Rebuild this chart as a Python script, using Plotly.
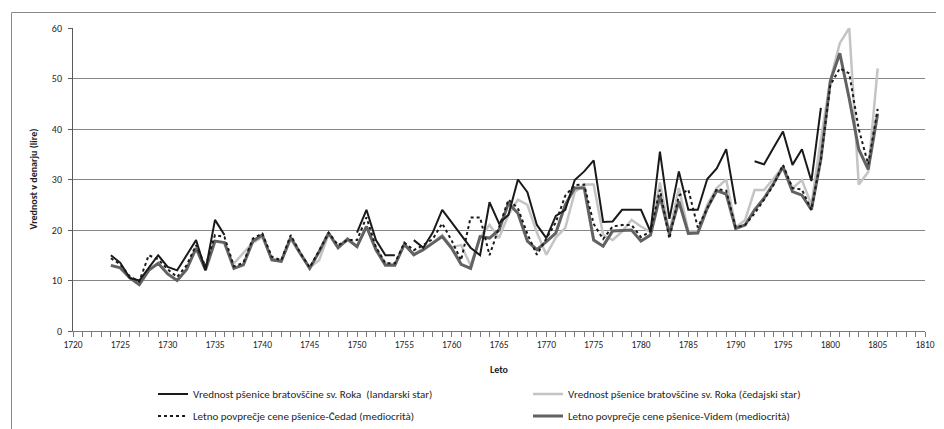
import plotly.graph_objects as go

years = list(range(1724, 1806))

# Vrednost pšenice bratovščine sv. Roka (landarski star)
landarski = [15, 13.5, 10.5, 10, 12.5, 15, 12.7, 12, 15, 18, 12, 22, 19,
             None, None, None, None, None, None, None, None, None, None, None, None, None,
             19.5, 24, 18, 15, 15, None, 18, 16.5, 19.5, 24, 21.5, 19, 16.5, 15,
             25.5, 21.3, 23, 30, 27.5, 21, 18.4, 22.8, 24, 29.9, 31.6, 33.8, 21.6,
             21.7, 24, 24, 24, 19.7, 35.5, 22.2, 31.6, 24, 24, 30.1, 32.2, 36, 25.1,
             None, 33.6, 33, 36.3, 39.5, 32.9, 36, 29.7, 44.2,
             None, None, None, None, None, None]

# Vrednost pšenice bratovščine sv. Roka (čedajski star)
cedajski = [None] * 13 + [
    13.4, 15.5, 17.5, 18.6, 14.3, 13.8, 18.3, 15.2, 12.6, 14, 19.2, 16.4, 18,
    16.8, 20.5, 16.5, 13.4, 13.2, 17, 15.3, 16.3, 17.5, 19, 16.6, 17, 13, 18.5,
    21, 18.4, 23, 26, 25, 19.5, 15.1, 18.5, 20.4, 27.5, 29, 29, 19,
    18, 19.7, 22, 20.7, 19.6, 29.4, 19.4, 28.3, 19.7, 19.7, 25, 28.3, 30, 20.5,
    22, 27.9, 27.9, 30.2, 32.5, 28.3, 29.9, 25, 38,
    49.7, 57, 60, 29, 31.5, 52]

# Letno povprečje cene pšenice-Čedad (mediocrità)
cedad = [14.4, 13.2, 10.8, 9.8, 15, 14.2, 12.2, 10.7, 13, 17, 12.8, 19, 18.6,
         12.8, 13.5, 18.3, 19.3, 14.7, 14, 19, 15.5, 12.6, 15.9, 19.5, 17, 18,
         18, 22.5, 16.6, 13.4, 13.4, 17.5, 16, 17, 18.2, 21.3, 17.9, 14, 22.5, 22.5,
         15, 20.4, 26, 24.3, 19.2, 15.1, 18.2, 21.5, 26.8, 28.9, 29, 21.2, 18.2,
         20.7, 21, 21, 18.6, 19.7, 28, 18.3, 26.8, 28, 20.5, 24.3, 28.1, 27.8, 20.5,
         21, 23.3, 26, 28.9, 32.9, 28.3, 28, 24, 34,
         48.7, 52, 51, 40, 33, 44]

# Letno povprečje cene pšenice-Videm (mediocrità)
videm = [13, 12.5, 10.5, 9.2, 12, 13.4, 11.3, 10, 12.2, 16.4, 12.1, 17.8, 17.5,
         12.4, 13.1, 17.8, 19, 14.1, 13.8, 18.5, 15.4, 12.4, 15.7, 19.4, 16.5, 18.2,
         16.7, 20.7, 16.1, 13, 13, 17.2, 15.1, 16.1, 17.4, 18.7, 16.4, 13.2, 12.4, 18.7,
         18.4, 20, 25.3, 23.3, 17.8, 16.1, 17.7, 19.4, 25, 28.3, 28.3, 18, 16.8,
         19.8, 19.9, 20, 17.8, 19, 26.7, 19.2, 25.7, 19.3, 19.4, 24.3, 27.8, 27.1, 20.3,
         21, 24, 26.3, 29.2, 32.5, 27.6, 26.9, 24, 34,
         49.5, 55, 46, 36, 32, 43]

names = [
    "Vrednost pšenice bratovščine sv. Roka  (landarski star)",
    "Vrednost pšenice bratovščine sv. Roka (čedajski star)",
    "Letno povprečje cene pšenice-Čedad (mediocrità)",
    "Letno povprečje cene pšenice-Videm (mediocrità)",
]

FONT = "Carlito, 'Liberation Sans', Arial, sans-serif"
TXT = "#1e1e1e"

fig = go.Figure()
# drawing order: light gray, dark gray, dotted, black on top
fig.add_trace(go.Scatter(x=years, y=cedajski, name=names[1], mode="lines",
                         line=dict(color="#c4c4c4", width=2.5),
                         legend="legend", legendrank=2))
fig.add_trace(go.Scatter(x=years, y=videm, name=names[3], mode="lines",
                         line=dict(color="#626262", width=3),
                         legend="legend2", legendrank=2))
fig.add_trace(go.Scatter(x=years, y=cedad, name=names[2], mode="lines",
                         line=dict(color="#1a1a1a", width=2, dash="dot"),
                         legend="legend2", legendrank=1))
fig.add_trace(go.Scatter(x=years, y=landarski, name=names[0], mode="lines",
                         line=dict(color="#1a1a1a", width=2),
                         legend="legend", legendrank=1))

L, R, T, B = 65, 27, 20, 106
W, H = 944, 429
pw = W - L - R
ph = H - T - B

def px2x(px):
    return (px - L) / pw

def py2y(py):
    return (H - B - py) / ph

leg_common = dict(orientation="h", xanchor="left", yanchor="middle",
                  entrywidth=330, traceorder="normal",
                  font=dict(family=FONT, size=11, color=TXT),
                  bgcolor="rgba(0,0,0,0)")

fig.update_layout(
    width=W, height=H,
    margin=dict(l=L, r=R, t=T, b=B, autoexpand=False),
    paper_bgcolor="white", plot_bgcolor="white",
    font=dict(family=FONT, size=10, color=TXT),
    showlegend=True,
    legend=dict(x=px2x(145), y=py2y(386), **leg_common),
    legend2=dict(x=px2x(145), y=py2y(408), **leg_common),
    xaxis=dict(range=[1720, 1810], tick0=1720, dtick=5, showgrid=False,
               zeroline=False, showline=True, linecolor="#7a7a7a", linewidth=1,
               ticks="outside", ticklen=5, tickcolor="#7a7a7a",
               tickfont=dict(family=FONT, size=9.5, color=TXT),
               minor=dict(dtick=1, ticks="outside", ticklen=5, tickcolor="#7a7a7a",
                          showgrid=False)),
    yaxis=dict(range=[0, 60], dtick=10, showgrid=True, gridcolor="#858585",
               gridwidth=1, zeroline=False, showline=True, linecolor="#5a5a5a",
               linewidth=1, ticks="outside", ticklen=4, tickcolor="#5a5a5a",
               ticklabelstandoff=4,
               tickfont=dict(family=FONT, size=10, color=TXT)),
    annotations=[
        dict(text="<b>Vrednost v denarju (lire)</b>", xref="paper", yref="paper",
             x=px2x(25), y=0.5, xanchor="center", yanchor="middle",
             textangle=-90, showarrow=False,
             font=dict(family=FONT, size=10, color=TXT)),
        dict(text="<b>Leto</b>", xref="paper", yref="paper",
             x=0.5, y=py2y(361), xanchor="center", yanchor="middle",
             showarrow=False,
             font=dict(family=FONT, size=10, color=TXT)),
    ],
    shapes=[dict(type="rect", xref="paper", yref="paper",
                 x0=px2x(3.5), x1=px2x(940.5), y0=py2y(425.5), y1=py2y(4.5),
                 line=dict(color="#8a8a8a", width=1), fillcolor="rgba(0,0,0,0)",
                 layer="below")],
)

fig.write_html("out.html")
